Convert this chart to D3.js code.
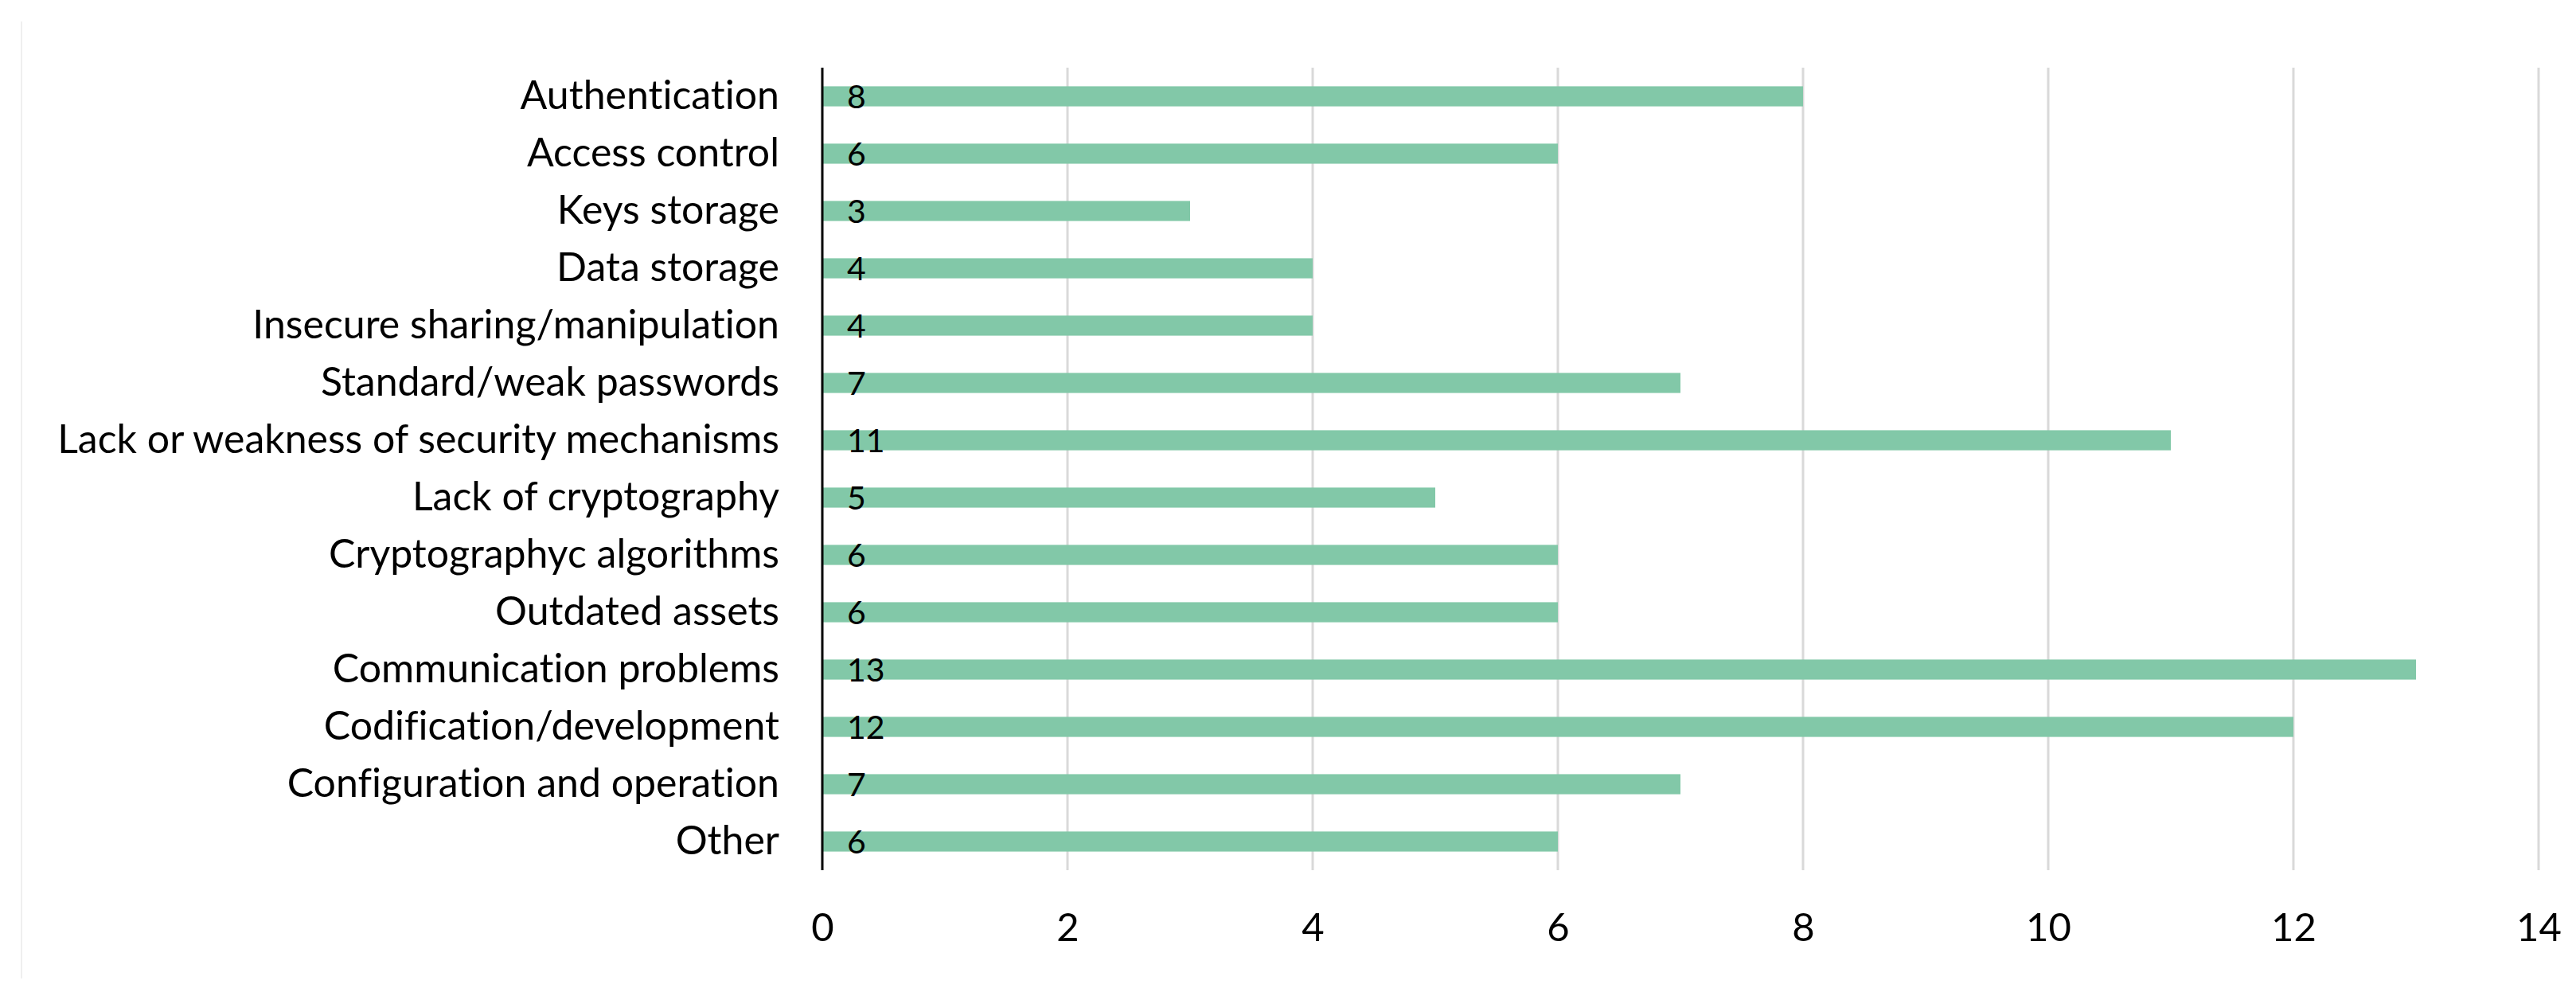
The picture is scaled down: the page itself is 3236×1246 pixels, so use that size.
<!DOCTYPE html>
<html>
<head>
<style>
  body { margin: 0; background: #fff; }
  svg text { font-family: Lato, "Open Sans", sans-serif; fill: #000; font-variant-ligatures: none; }
</style>
</head>
<body>
  <div id="chart"></div>
<script src="https://d3js.org/d3.v7.min.js"></script>
<script>
const categories = [
  'Authentication',
  'Access control',
  'Keys storage',
  'Data storage',
  'Insecure sharing/manipulation',
  'Standard/weak passwords',
  'Lack or weakness of security mechanisms',
  'Lack of cryptography',
  'Cryptographyc algorithms',
  'Outdated assets',
  'Communication problems',
  'Codification/development',
  'Configuration and operation',
  'Other'
];
const counts = [8, 6, 3, 4, 4, 7, 11, 5, 6, 6, 13, 12, 7, 6];
const xTicks = [0, 2, 4, 6, 8, 10, 12, 14];

const width = 3236, height = 1246;
const margin = { top: 85, right: 47, bottom: 153, left: 1033 };

const svg = d3.select('#chart').append('svg')
  .attr('width', width)
  .attr('height', height);

// faint frame edge on the left
svg.append('line')
  .attr('x1', 27).attr('x2', 27)
  .attr('y1', 27).attr('y2', 1229)
  .attr('stroke', '#efefef')
  .attr('stroke-width', 2);

const x = d3.scaleLinear()
  .domain([0, 14])
  .range([margin.left, width - margin.right]);

const y = d3.scaleBand()
  .domain(categories)
  .range([margin.top, height - margin.bottom])
  .paddingInner(0.65)
  .paddingOuter(0.325);

// vertical gridlines
svg.append('g')
  .selectAll('line')
  .data(xTicks.slice(1))
  .join('line')
  .attr('x1', d => x(d))
  .attr('x2', d => x(d))
  .attr('y1', margin.top)
  .attr('y2', height - margin.bottom)
  .attr('stroke', '#d9d9d9')
  .attr('stroke-width', 3);

// bars
svg.append('g')
  .selectAll('rect')
  .data(counts)
  .join('rect')
  .attr('x', x(0))
  .attr('y', (d, i) => y(categories[i]))
  .attr('width', d => x(d) - x(0))
  .attr('height', y.bandwidth())
  .attr('fill', '#82c8a8');

// value labels
svg.append('g')
  .selectAll('text')
  .data(counts)
  .join('text')
  .attr('x', x(0) + 31)
  .attr('y', (d, i) => y(categories[i]) + y.bandwidth() / 2)
  .attr('dy', '0.36em')
  .attr('font-size', 41)
  .text(d => d);

// x axis labels
const xAxis = d3.axisBottom(x).tickValues(xTicks).tickSize(0).tickPadding(54);
svg.append('g')
  .attr('transform', `translate(0,${height - margin.bottom})`)
  .call(xAxis)
  .call(g => g.select('.domain').remove())
  .call(g => g.selectAll('text').attr('font-size', 49).attr('font-family', 'Lato, sans-serif'));

// y axis labels
const yAxis = d3.axisLeft(y).tickSize(0).tickPadding(54);
svg.append('g')
  .attr('transform', `translate(${margin.left},0)`)
  .call(yAxis)
  .call(g => g.select('.domain').remove())
  .call(g => g.selectAll('text').attr('font-size', 50).attr('font-family', 'Lato, sans-serif'));

// y axis line
svg.append('line')
  .attr('x1', margin.left)
  .attr('x2', margin.left)
  .attr('y1', margin.top)
  .attr('y2', height - margin.bottom)
  .attr('stroke', '#000')
  .attr('stroke-width', 3);
</script>
</body>
</html>
